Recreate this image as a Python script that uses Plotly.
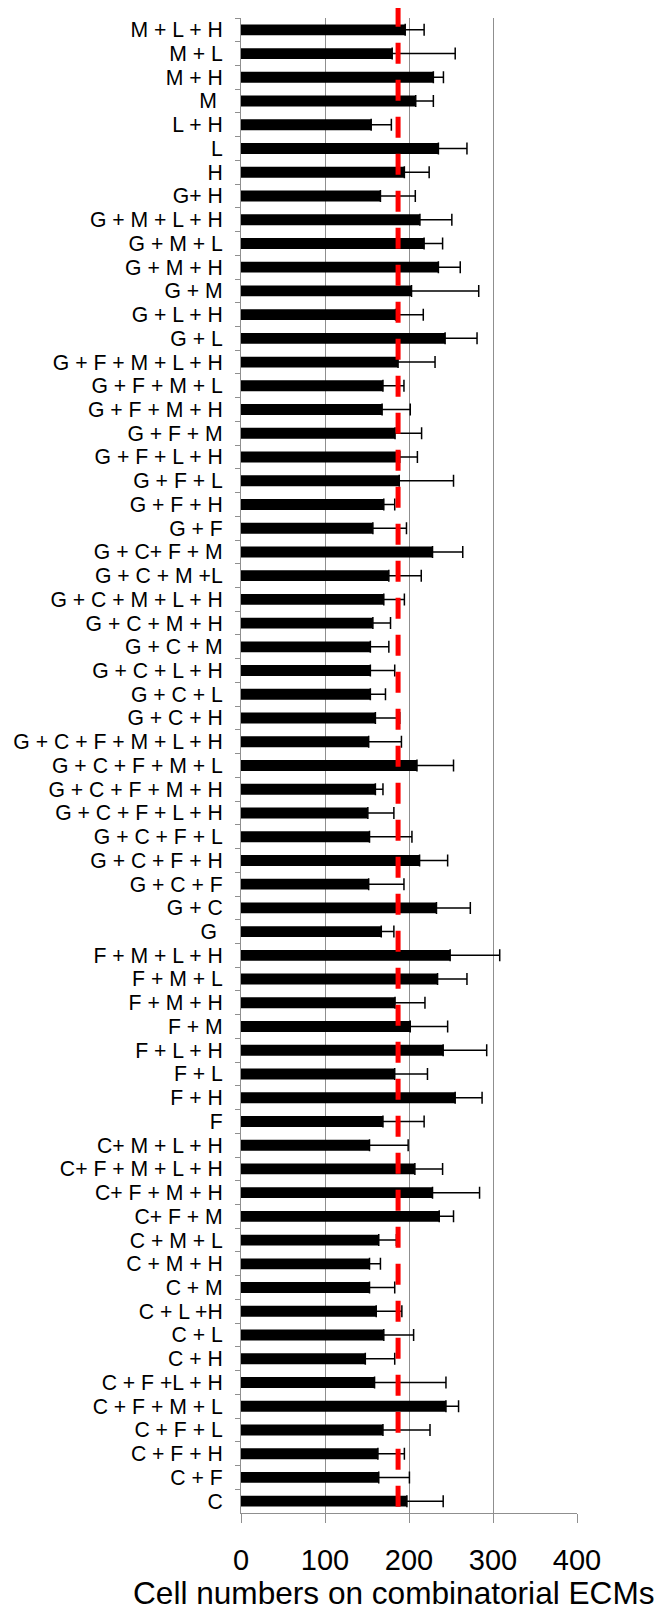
import plotly.graph_objects as go

categories = [
    "M + L + H", "M + L", "M + H", "M\u00a0", "L + H", "L", "H", "G+ H",
    "G + M + L + H", "G + M + L", "G + M + H", "G + M", "G + L + H", "G + L",
    "G + F + M + L + H", "G + F + M + L", "G + F + M + H", "G + F + M",
    "G + F + L + H", "G + F + L", "G + F + H", "G + F", "G + C+ F + M",
    "G + C + M +L", "G + C + M + L + H", "G + C + M + H", "G + C + M",
    "G + C + L + H", "G + C + L", "G + C + H", "G + C + F + M + L + H",
    "G + C + F + M + L", "G + C + F + M + H", "G + C + F + L + H",
    "G + C + F + L", "G + C + F + H", "G + C + F", "G + C", "G\u00a0",
    "F + M + L + H", "F + M + L", "F + M + H", "F + M", "F + L + H", "F + L",
    "F + H", "F", "C+ M + L + H", "C+ F + M + L + H", "C+ F + M + H",
    "C+ F + M", "C + M + L", "C + M + H", "C + M", "C + L +H", "C + L",
    "C + H", "C + F +L + H", "C + F + M + L", "C + F + L", "C + F + H",
    "C + F", "C",
]

means = [
    195.5, 180, 229, 208, 155, 235, 194.5, 166,
    213, 218, 235, 203, 184, 243,
    187, 169, 168, 183.4,
    189, 188.4, 170, 157, 228,
    176, 170, 157, 154,
    154, 154, 160, 152,
    209.5, 160, 151,
    153, 212.6, 152, 232.7, 167,
    249, 234, 183.4, 201.5, 240.7, 183,
    255, 169, 153, 207, 228,
    236, 164, 153, 153, 161, 170,
    148, 159, 244, 169, 163,
    164, 197.5,
]

upper = [
    218, 255, 241, 229, 179, 269, 224, 207.5,
    251, 240, 261, 283, 217, 281,
    231, 194, 201.5, 215,
    210, 253, 183, 197, 264,
    214.6, 194.5, 178, 176,
    183, 172, 189, 191,
    253, 169, 182,
    203.5, 246, 194, 273, 182,
    308, 269, 219, 246, 292.5, 222,
    287, 218, 199, 240, 284,
    253, 185, 166, 183, 191.5, 205.5,
    183, 244, 259, 225, 194.5,
    200.5, 240.7,
]
err_plus = [round(u - m, 1) for u, m in zip(upper, means)]

reference_value = 187
x_ticks = [0, 100, 200, 300, 400]
x_title = "Cell numbers on combinatorial ECMs"

FONT = "Arial, 'Liberation Sans', sans-serif"
GRID = "#8f8f8f"

fig = go.Figure()
fig.add_trace(go.Bar(
    y=categories,
    x=means,
    orientation="h",
    marker=dict(color="black", line=dict(width=0)),
    error_x=dict(type="data", array=err_plus, symmetric=False,
                 arrayminus=[0] * len(means),
                 color="black", thickness=1.5, width=6),
    showlegend=False,
))

fig.add_shape(type="line", xref="x", yref="paper",
              x0=reference_value, x1=reference_value, y0=1.0082, y1=-0.0055,
              line=dict(color="#ff0000", width=5, dash="21px,16px"))

fig.add_annotation(text=x_title, xref="paper", yref="paper",
                   x=-0.3283, y=-0.0532, xanchor="left", yanchor="middle",
                   showarrow=False, font=dict(family=FONT, size=31.6, color="black"))

# the page body has an 8px default margin, so the figure is sized to fit
fig.update_layout(
    width=655, height=1602,
    margin=dict(l=233, r=86, t=10, b=97, autoexpand=False),
    paper_bgcolor="white", plot_bgcolor="white",
    bargap=0.54,
    font=dict(family=FONT, color="black"),
)
fig.update_xaxes(
    range=[0, 400], tickvals=x_ticks, ticktext=[str(v) for v in x_ticks],
    showgrid=True, gridcolor=GRID, gridwidth=1,
    showline=True, linecolor=GRID, linewidth=1,
    ticks="outside", ticklen=9, tickcolor=GRID, tickwidth=1,
    tickfont=dict(family=FONT, size=29, color="black"),
    ticklabelstandoff=12, zeroline=False, automargin=False,
)
fig.update_yaxes(
    type="category", autorange="reversed",
    tickmode="linear", tick0=0, dtick=1,
    showgrid=False, showline=True, linecolor=GRID, linewidth=1,
    ticks="outside", tickson="boundaries", ticklen=5, tickcolor=GRID, tickwidth=1,
    tickfont=dict(family=FONT, size=21.2, color="black"),
    ticklabelstandoff=13, automargin=False,
)

fig.write_html("out.html")
